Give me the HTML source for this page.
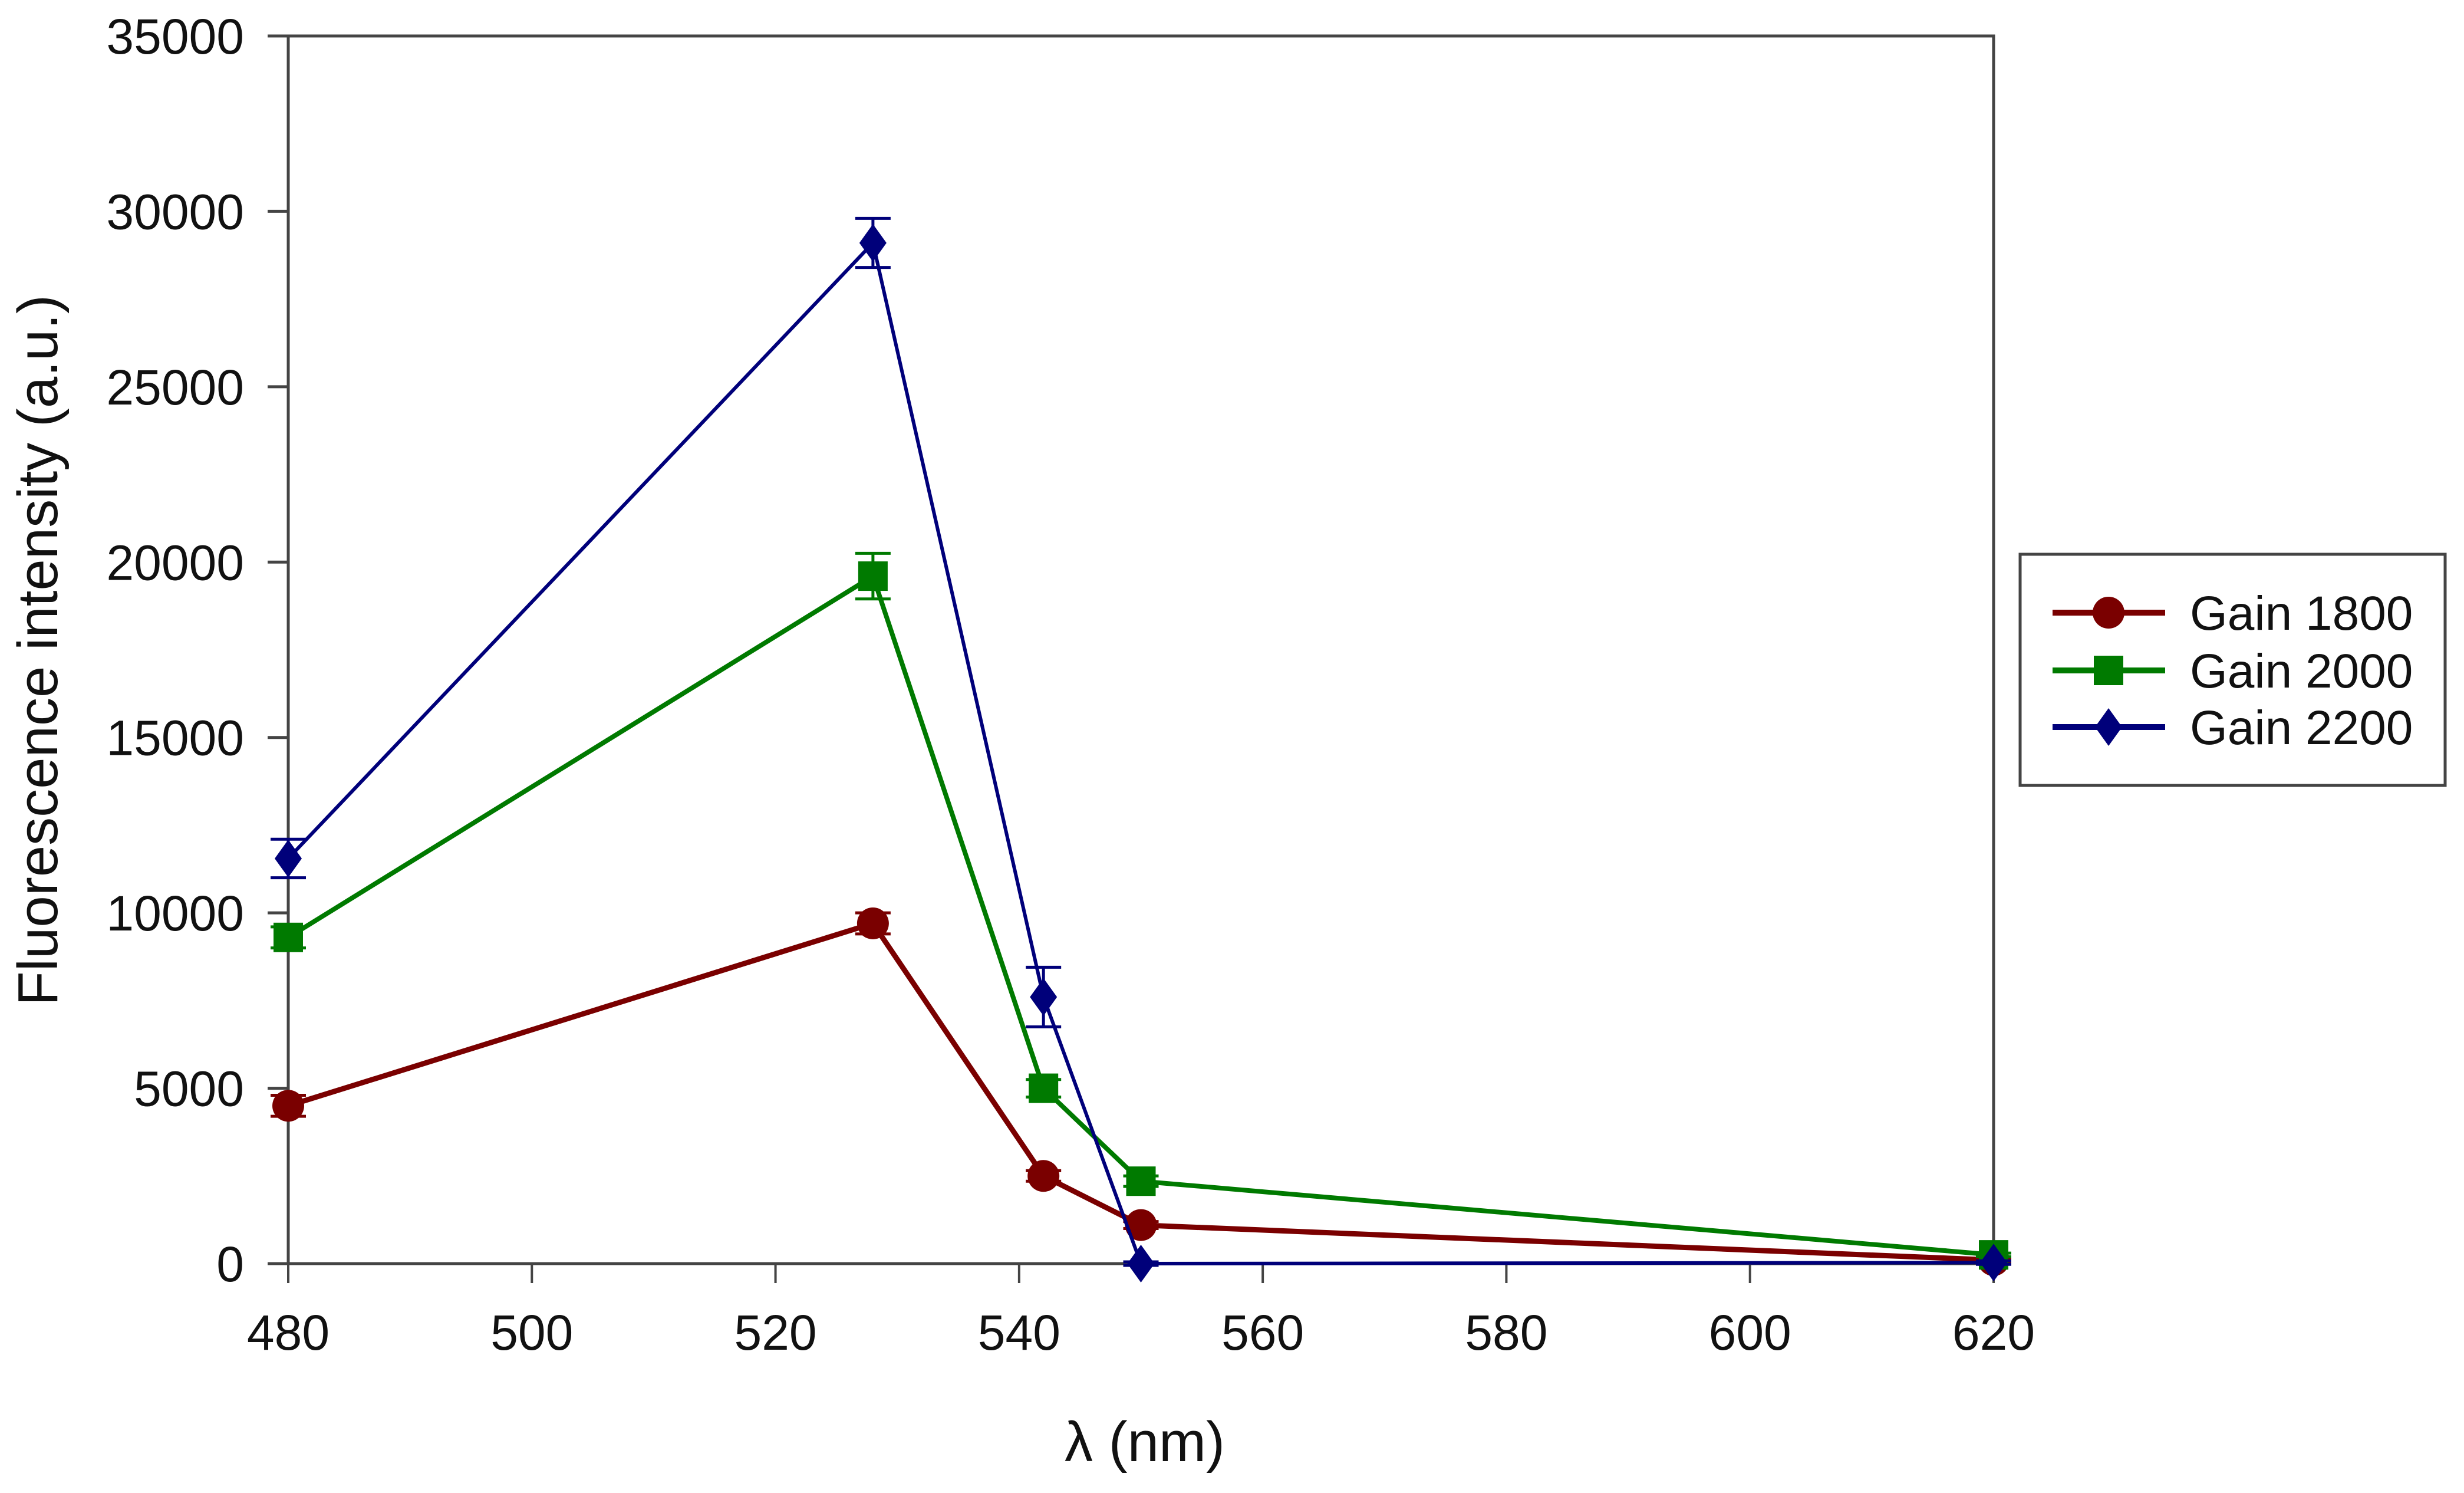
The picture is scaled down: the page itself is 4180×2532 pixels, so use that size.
<!DOCTYPE html>
<html><head><meta charset="utf-8">
<style>
html,body{margin:0;padding:0;background:#fff;}
svg{display:block;font-family:"Liberation Sans",Arial,sans-serif;}
</style></head>
<body>
<svg id="chart" width="4180" height="2532" viewBox="0 0 4180 2532" xmlns="http://www.w3.org/2000/svg">
<rect x="0" y="0" width="4180" height="2532" fill="#fff"/>
<g id="grid"></g>
<g id="series"></g>
<text x="0" y="0" transform="translate(97,1103) rotate(-90)" text-anchor="middle" font-size="96" fill="#111">Fluorescence intensity (a.u.)</text>
<text x="1942" y="2478" text-anchor="middle" font-size="96" fill="#111">λ (nm)</text>
<g>
<rect x="3427" y="940" width="721" height="392" fill="#fff" stroke="#444" stroke-width="5"/>
<g id="legend-items"></g>
</g>
</svg>
<script>
const categories = [480, 528, 542, 550, 620];
const gain1800 = [4500, 9700, 2500, 1100, 100];
const gain2000 = [9300, 19600, 5000, 2350, 250];
const gain2200 = [11550, 29100, 7600, 0, 30];
const err1800 = [300, 300, 150, 100, 50];
const err2000 = [300, 650, 250, 150, 50];
const err2200 = [550, 700, 850, 50, 50];
const xTicks = [480, 500, 520, 540, 560, 580, 600, 620];
const yTicks = [0, 5000, 10000, 15000, 20000, 25000, 30000, 35000];
const seriesNames = ["Gain 1800", "Gain 2000", "Gain 2200"];

const NS = "http://www.w3.org/2000/svg";
const L = 489, R = 3382, T = 61, B = 2143;
function xs(v){ return L + (v - 480) / 140 * (R - L); }
function ys(v){ return B - v / 35000 * (B - T); }
function mk(tag, attrs, parent){
  const e = document.createElementNS(NS, tag);
  for (const k in attrs) e.setAttribute(k, attrs[k]);
  parent.appendChild(e); return e;
}
const grid = document.getElementById('grid');
const frame = mk('rect', {x:L, y:T, width:R-L, height:B-T, fill:'none', stroke:'#444', 'stroke-width':5}, grid);


yTicks.forEach(v => {
  const t = mk('line', {x1:L-35, x2:L, y1:ys(v), y2:ys(v), stroke:'#444', 'stroke-width':5}, grid);
  
  
  const lb = mk('text', {x:414, y:ys(v)+30, 'text-anchor':'end', 'font-size':84, fill:'#111'}, grid);
  
  
  lb.textContent = v;
});
xTicks.forEach(v => {
  const t = mk('line', {x1:xs(v), x2:xs(v), y1:B, y2:B+33, stroke:'#444', 'stroke-width':4}, grid);
  
  
  const lb = mk('text', {x:xs(v), y:2289, 'text-anchor':'middle', 'font-size':84, fill:'#111'}, grid);
  
  
  lb.textContent = v;
});

const sg = document.getElementById('series');
function marker(shape, cx, cy, color, parent){
  let e;
  if (shape === 'circle') e = mk('circle', {cx:cx, cy:cy, r:27, fill:color}, parent);
  else if (shape === 'square') e = mk('rect', {x:cx-25, y:cy-25, width:50, height:50, fill:color}, parent);
  else e = mk('polygon', {points:`${cx},${cy-32} ${cx+23},${cy} ${cx},${cy+32} ${cx-23},${cy}`, fill:color}, parent);
  return e;
}
const defs = [
  {vals:gain1800, errs:err1800, color:'#7a0000', shape:'circle', w:9},
  {vals:gain2000, errs:err2000, color:'#007a00', shape:'square', w:8},
  {vals:gain2200, errs:err2200, color:'#00007a', shape:'diamond', w:6}
];
defs.forEach((d, si) => {
  const g = mk('g', {}, sg);
  
  
  categories.forEach((c, i) => {
    const x = xs(c), y1 = ys(d.vals[i] + d.errs[i]), y2 = ys(d.vals[i] - d.errs[i]);
    const eb = mk('path', {d:`M${x},${y1}V${y2}M${x-30},${y1}H${x+30}M${x-30},${y2}H${x+30}`, stroke:d.color, 'stroke-width':5, fill:'none'}, g);
    
    
  });
  const pts = categories.map((c, i) => xs(c) + ',' + ys(d.vals[i])).join(' ');
  const pl = mk('polyline', {points:pts, fill:'none', stroke:d.color, 'stroke-width':d.w, 'stroke-linejoin':'round'}, g);
  
  
  categories.forEach((c, i) => {
    const m = marker(d.shape, xs(c), ys(d.vals[i]), d.color, g);
    
    
  });
});

const lg = document.getElementById('legend-items');
const ly = [1039, 1137, 1233];
defs.forEach((d, i) => {
  const g = mk('g', {}, lg);
  
  
  mk('line', {x1:3482, x2:3673, y1:ly[i], y2:ly[i], stroke:d.color, 'stroke-width':10}, g);
  marker(d.shape, 3577, ly[i], d.color, g);
  const t = mk('text', {x:3715, y:ly[i]+29, 'font-size':82, fill:'#111'}, g);
  
  
  t.textContent = seriesNames[i];
});
</script>
</body></html>
